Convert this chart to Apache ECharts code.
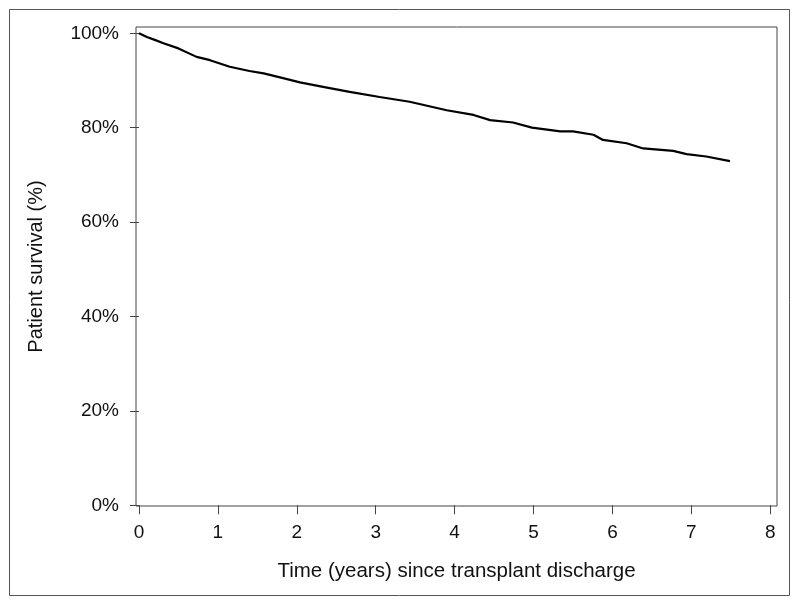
<!DOCTYPE html>
<html>
<head>
<meta charset="utf-8">
<script src="https://cdn.jsdelivr.net/npm/echarts@6/dist/echarts.min.js"></script>
<style>html,body{margin:0;padding:0;background:#fff;}#c{width:800px;height:605px;}</style>
</head>
<body>
<div id="c"></div>
<script>
// Kaplan-Meier patient survival
const timeYears = [0, 0.1, 0.2, 0.31, 0.5, 0.73, 0.9, 1.15, 1.4, 1.58, 1.8, 2.04, 2.35, 2.67, 3.05, 3.43, 3.9, 4.24, 4.45, 4.74, 4.98, 5.34, 5.5, 5.76, 5.88, 6.18, 6.39, 6.77, 6.94, 7.19, 7.49];
const survivalPct = [100, 99.2, 98.6, 97.9, 96.8, 95.0, 94.3, 92.9, 92.0, 91.5, 90.6, 89.6, 88.6, 87.6, 86.5, 85.5, 83.7, 82.7, 81.6, 81.1, 80.0, 79.2, 79.2, 78.5, 77.4, 76.7, 75.6, 75.1, 74.4, 73.9, 72.9];
const xTicks = [0, 1, 2, 3, 4, 5, 6, 7, 8];
const yTicks = [0, 20, 40, 60, 80, 100];
const xTitle = 'Time (years) since transplant discharge';
const yTitle = 'Patient survival (%)';

const seriesData = timeYears.map((t, i) => [t, survivalPct[i]]);
const font = '"Liberation Sans", Arial, sans-serif';
const chart = echarts.init(document.getElementById('c'), null, {renderer: 'canvas'});
chart.setOption({
  animation: false,
  backgroundColor: '#fff',
  graphic: [{
    type: 'rect', shape: {x: 9.5, y: 9.5, width: 780, height: 586},
    style: {fill: 'none', stroke: '#555', lineWidth: 1}, silent: true
  }],
  grid: {left: 136, top: 27, width: 641, height: 479, show: true, borderColor: '#444', borderWidth: 1, backgroundColor: 'transparent'},
  xAxis: {
    type: 'value', min: -0.038, max: 8.086,
    axisLine: {show: false},
    splitLine: {show: false},
    axisTick: {show: true, customValues: xTicks, length: 9, lineStyle: {color: '#444'}},
    axisLabel: {customValues: xTicks, margin: 17, fontSize: 19, color: '#111', fontFamily: font},
    name: xTitle, nameLocation: 'middle', nameGap: 55,
    nameTextStyle: {fontSize: 20.5, color: '#111', fontFamily: font}
  },
  yAxis: {
    type: 'value', min: -0.15, max: 101.33,
    axisLine: {show: false},
    splitLine: {show: false},
    axisTick: {show: true, customValues: yTicks, length: 9, lineStyle: {color: '#444'}},
    axisLabel: {customValues: yTicks, margin: 17, fontSize: 19, color: '#111', fontFamily: font, formatter: v => v + '%'},
    name: yTitle, nameLocation: 'middle', nameGap: 90, nameRotate: 90,
    nameTextStyle: {fontSize: 20, color: '#111', fontFamily: font}
  },
  series: [{
    type: 'line', data: seriesData, showSymbol: false, smooth: false,
    lineStyle: {color: '#000', width: 2.2}
  }]
});
</script>
</body>
</html>
